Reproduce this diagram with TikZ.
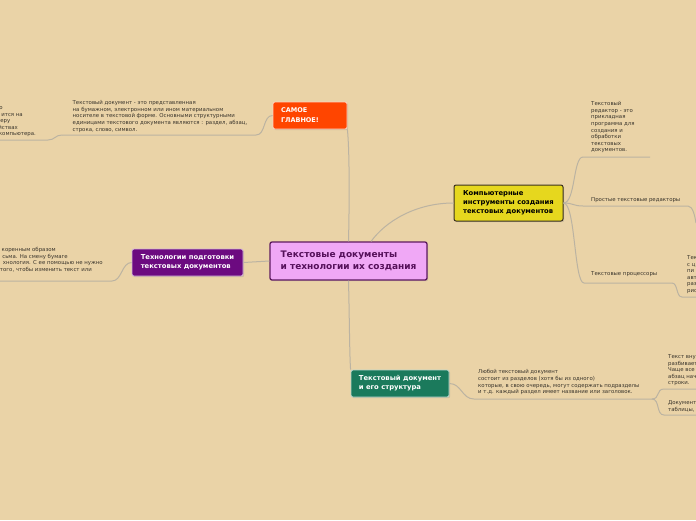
\documentclass[tikz,border=0pt]{standalone}
\usepackage{fontspec}
\setmainfont{DejaVu Sans}
\usetikzlibrary{shadows}
\definecolor{bg}{HTML}{EAD3A7}
\definecolor{conn}{HTML}{BBB3A2}
\definecolor{leaftxt}{HTML}{3A352C}
\definecolor{cfill}{HTML}{F0A8F6}
\definecolor{cdraw}{HTML}{5E1A60}
\definecolor{ctxt}{HTML}{55105A}
\definecolor{ofill}{HTML}{FF4500}
\definecolor{yfill}{HTML}{E6D71E}
\definecolor{ydraw}{HTML}{3A3020}
\definecolor{pfill}{HTML}{6C0A80}
\definecolor{gfill}{HTML}{1B7A5C}
\tikzset{
  boxbase/.style={rectangle, rounded corners=2pt, align=left, inner ysep=0pt,
    drop shadow={opacity=0.25, shadow xshift=1.2pt, shadow yshift=-1.2pt}},
  smallbox/.style={boxbase, inner xsep=7pt, font=\bfseries\fontsize{6.8}{8.8}\selectfont},
  leaf/.style={inner sep=0pt, align=left, text=leaftxt, font=\fontsize{5.4}{6.6}\selectfont},
  frag/.style={inner sep=0pt, text=leaftxt, font=\fontsize{5.4}{6.6}\selectfont, anchor=base east},
  conn/.style={draw=conn, line width=1pt},
}
\begin{document}
\begin{tikzpicture}[x=1pt,y=-1pt]
\useasboundingbox (0,0) rectangle (696,520);
\fill[bg] (0,0) rectangle (696,520);

% coordinates of underlines
\coordinate (u0l) at (0,140);
\coordinate (u0r) at (48,140);
\coordinate (u1l) at (62,135);
\coordinate (u1r) at (256,135);
\coordinate (u2l) at (0,281);
\coordinate (u2r) at (112,281);
\coordinate (u3l) at (583,157);
\coordinate (u3r) at (650,157);
\coordinate (u4l) at (583,206);
\coordinate (u4r) at (688,206);
\coordinate (u4x) at (696,223);
\coordinate (u5l) at (584,283);
\coordinate (u5r) at (672,283);
\coordinate (u9l) at (682,297);
\coordinate (u9r) at (696,297);
\coordinate (u6l) at (474,399);
\coordinate (u6r) at (652,399);
\coordinate (u7l) at (664,389);
\coordinate (u7r) at (696,389);
\coordinate (u8l) at (664,415);
\coordinate (u8r) at (696,415);

% boxes
\node[boxbase, draw=cdraw, line width=1.3pt, fill=cfill, text=ctxt,
  minimum width=157pt, minimum height=38pt, font=\bfseries\fontsize{9}{12}\selectfont]
  (central) at (348.5,261) {Текстовые документы\\и технологии их создания};
\node[smallbox, draw=white!75!ofill, line width=0.8pt, fill=ofill, text=white, inner xsep=8pt,
  text width=58pt, minimum height=27pt, font=\bfseries\fontsize{6.5}{10}\selectfont]
  (samoe) at (310,115.5) {САМОЕ\\ГЛАВНОЕ!};
\node[smallbox, draw=ydraw, line width=1pt, fill=yfill, text=black,
  minimum width=109pt, minimum height=36pt] (yellow) at (508.5,203) {Компьютерные\\инструменты создания\\текстовых документов};
\node[smallbox, draw=white!70!pfill, line width=0.8pt, fill=pfill, text=white,
  minimum width=111pt, minimum height=27pt] (purple) at (187.5,262.5) {Технологии подготовки\\текстовых документов};
\node[smallbox, draw=white!70!gfill, line width=0.8pt, fill=gfill, text=white,
  minimum width=98pt, minimum height=27pt] (green) at (400,383.5) {Текстовый документ\\и его структура};

% main connectors
\draw[conn] (central.north) .. controls (349.5,200) and (349.5,150) .. (samoe.south east);
\draw[conn] (central.41) .. controls (385,222) and (415,203) .. (yellow.west);
\draw[conn] (central.west) -- (purple.east);
\draw[conn] (central.south) .. controls (349.5,320) and (349.5,355) .. (green.north west);

% САМОЕ ГЛАВНОЕ branch
\draw[conn] (samoe.west) .. controls +(-10,0) and +(10,0) .. (u1r) -- (u1l);
\draw[conn] (u1l) .. controls +(-7,0) and +(7,0) .. (u0r) -- (u0l);
\node[leaf, anchor=north west] (t1) at (72.5,100.3) {Текстовый документ - это представленная\\на бумажном, электронном или ином материальном\\носителе в текстовой форме. Основными структурными\\единицами текстового документа являются : раздел, абзац,\\ строка, слово, символ.};
\node[frag] (f01) at (3,109.5) {о};
\node[frag] (f02) at (23,116) {ится на};
\node[frag] (f03) at (10.5,122.5) {еру};
\node[frag] (f04) at (18,129) {йствах};
\node[frag] (f05) at (36,135.5) {компьютера.};

% Технологии branch
\draw[conn] (purple.west) .. controls +(-10,0) and +(10,0) .. (u2r) -- (u2l);
\node[frag] (f21) at (56,251.5) {коренным образом};
\node[frag] (f22) at (68,258) {сьма. На смену бумаге};
\node[frag] (f23) at (103,264.5) {хнология. С ее помощью не нужно};
\node[frag] (f24) at (92,271) {того, чтобы изменить текст или};

% Компьютерные инструменты branch
\draw[conn] (yellow.east) .. controls +(12,0) and +(-10,0) .. (u3l) -- (u3r);
\draw[conn] (yellow.east) .. controls +(10,0) and +(-10,0) .. (u4l) -- (u4r)
  .. controls +(5,0) and +(-1,-6) .. (u4x);
\draw[conn] (yellow.east) .. controls +(12,0) and +(-10,0) .. (u5l) -- (u5r)
  .. controls +(6,0) and +(-6,0) .. (u9l) -- (u9r);
\node[leaf, anchor=north west] (t3) at (591,101.4) {Текстовый\\редактор - это\\прикладная\\программа для\\создания и\\обработки\\текстовых\\документов.};
\node[leaf, anchor=north west] (t4) at (591,197.4) {Простые текстовые редакторы};
\node[leaf, anchor=north west] (t5) at (591,271.4) {Текстовые процессоры};
\node[leaf, anchor=north west] (t9) at (687,255.4) {Тек\\с ц\\пи\\авт\\раз\\рис};

% Текстовый документ branch
\draw[conn] (green.east) .. controls +(12,0) and +(-12,0) .. (u6l) -- (u6r);
\draw[conn] (u6r) .. controls +(8,0) and +(-8,0) .. (u7l) -- (u7r);
\draw[conn] (u6r) .. controls +(8,0) and +(-8,0) .. (u8l) -- (u8r);
\node[leaf, anchor=north west] (t6) at (478,369.4) {Любой текстовый документ\\состоит из разделов (хотя бы из одного)\\которые, в свою очередь, могут содержать подразделы\\и т.д. каждый раздел имеет название или заголовок.};
\node[leaf, anchor=north west] (t7) at (668,354.4) {Текст вну\\разбивает\\Чаще все\\абзац нач\\строки.};
\node[leaf, anchor=north west] (t8) at (668,400.4) {Документ\\таблицы,};
\end{tikzpicture}
\end{document}
